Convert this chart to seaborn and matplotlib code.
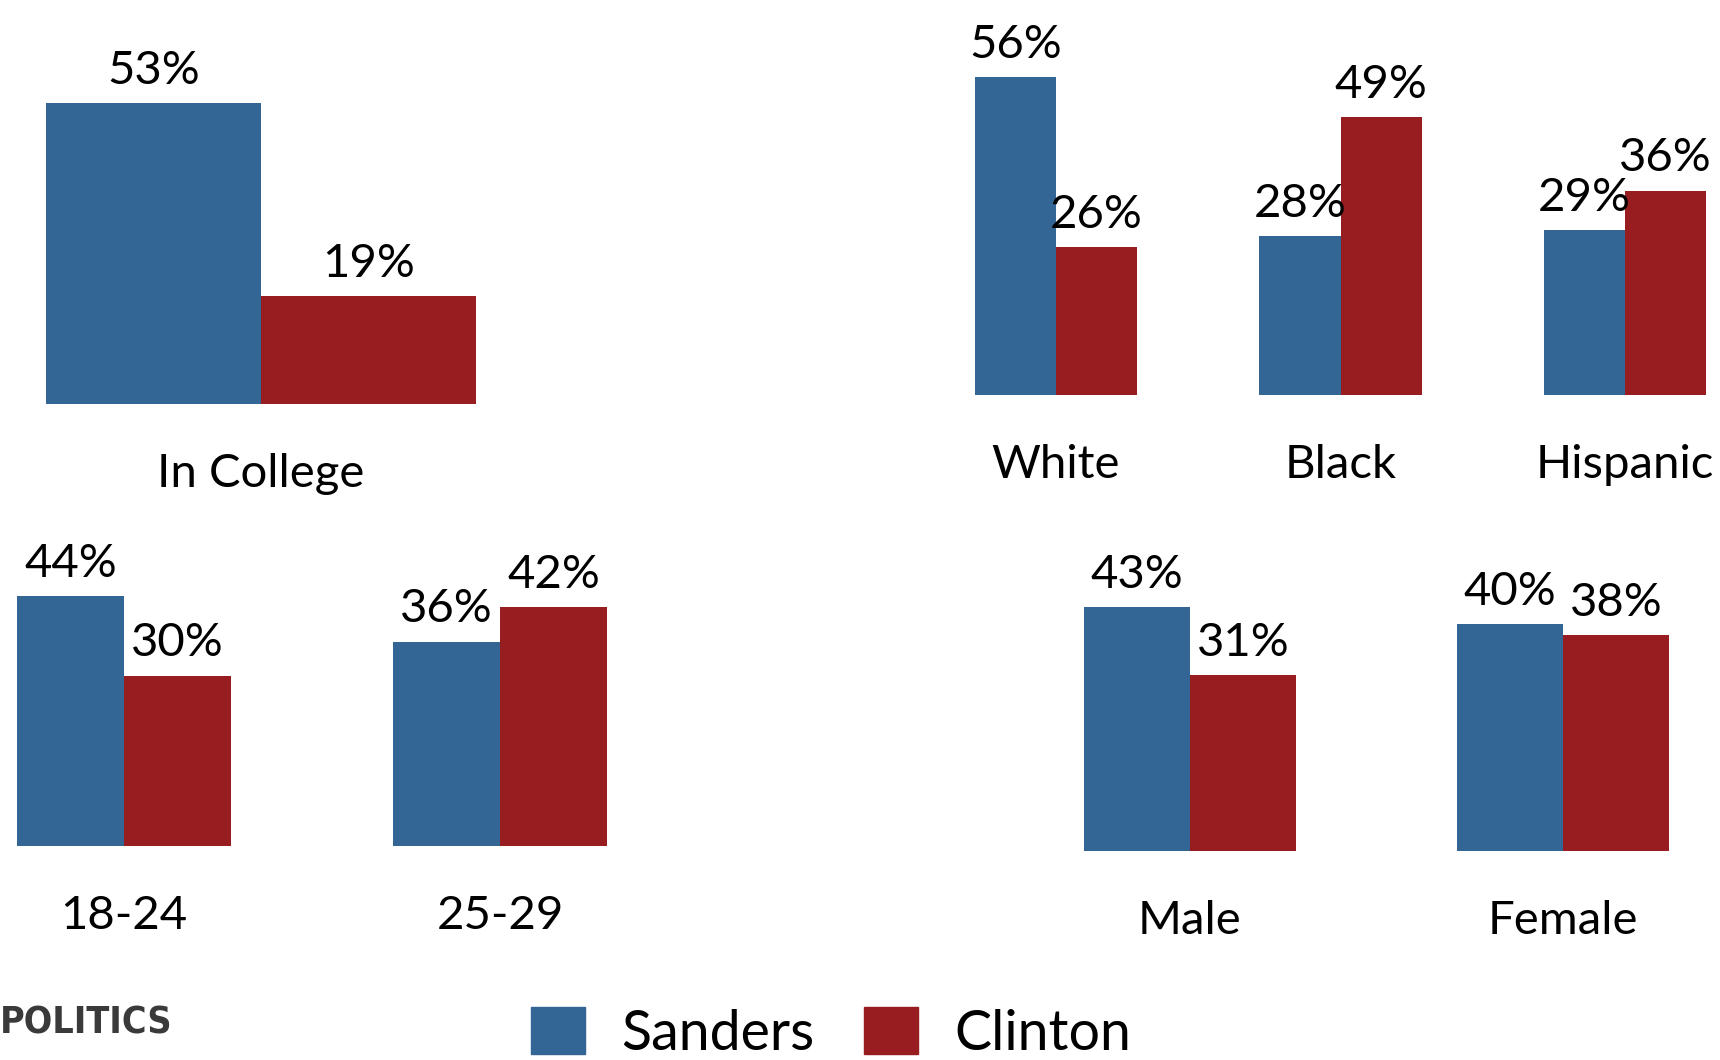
import pandas as pd
import matplotlib
matplotlib.use("Agg")
import matplotlib.pyplot as plt
import matplotlib.patches as mpatches
import seaborn as sns

# data
college_cats = ["In College"]
college_sanders = [53]
college_clinton = [19]

race_cats = ["White", "Black", "Hispanic"]
race_sanders = [56, 28, 29]
race_clinton = [26, 49, 36]

age_cats = ["18-24", "25-29"]
age_sanders = [44, 36]
age_clinton = [30, 42]

gender_cats = ["Male", "Female"]
gender_sanders = [43, 40]
gender_clinton = [31, 38]

candidates = ["Sanders", "Clinton"]
colors = {"Sanders": "#336595", "Clinton": "#981D21"}

W, H = 1720, 1060
PX_PER_PCT = 5.68
YMAX = 70

sns.set_style("white")
plt.rcParams["font.family"] = ["Lato", "DejaVu Sans"]
plt.rcParams["text.color"] = "black"
plt.rcParams["xtick.color"] = "black"

fig = plt.figure(figsize=(W / 100, H / 100), dpi=100)


def make_df(cats, s, c):
    rows = []
    for i, cat in enumerate(cats):
        rows.append({"group": cat, "candidate": "Sanders", "pct": s[i]})
        rows.append({"group": cat, "candidate": "Clinton", "pct": c[i]})
    return pd.DataFrame(rows)


def panel(cats, s, c, left, right, baseline, c0, sp, width):
    ax = fig.add_axes([left / W, 1 - baseline / H, (right - left) / W,
                       YMAX * PX_PER_PCT / H])
    ax.patch.set_visible(False)
    df = make_df(cats, s, c)
    sns.barplot(data=df, x="group", y="pct", hue="candidate",
                hue_order=candidates, palette=colors, width=width,
                saturation=1, legend=False, ax=ax, linewidth=0)
    for cont in ax.containers:
        ax.bar_label(cont, labels=[f"{int(v)}%" for v in cont.datavalues],
                     padding=8, fontsize=34, color="black")
    ax.set_xlim((left - c0) / sp, (right - c0) / sp)
    ax.set_ylim(0, YMAX)
    ax.set_xlabel("")
    ax.set_ylabel("")
    ax.set_yticks([])
    ax.tick_params(axis="x", length=0, pad=35, labelsize=34,
                   labelcolor="black")
    sns.despine(ax=ax, left=True, bottom=True)
    return ax


panel(college_cats, college_sanders, college_clinton,
      0, 700, 404, 261, 537, 0.8)
panel(race_cats, race_sanders, race_clinton,
      940, 1720, 395, 1056, 284.5, 0.57)
panel(age_cats, age_sanders, age_clinton,
      0, 700, 846, 124, 376, 0.57)
panel(gender_cats, gender_sanders, gender_clinton,
      1000, 1720, 851, 1190, 373, 0.57)

handles = [mpatches.Patch(color=colors[k], label=k) for k in candidates]
fig.legend(handles=handles, loc="lower left", bbox_to_anchor=(531 / W, 0),
           ncol=2, frameon=False, fontsize=40, handlelength=0.97,
           handleheight=0.93, handletextpad=0.65, columnspacing=0.9,
           borderpad=0, borderaxespad=0, labelcolor="black")

fig.text(0.0, 1 - 1033 / H, "POLITICS", fontsize=27, fontweight="bold",
         color="#3a3a3a", va="baseline", ha="left", fontstretch="condensed",
         family=["Liberation Sans Narrow", "DejaVu Sans"])

fig.savefig("out.png", dpi=100)
